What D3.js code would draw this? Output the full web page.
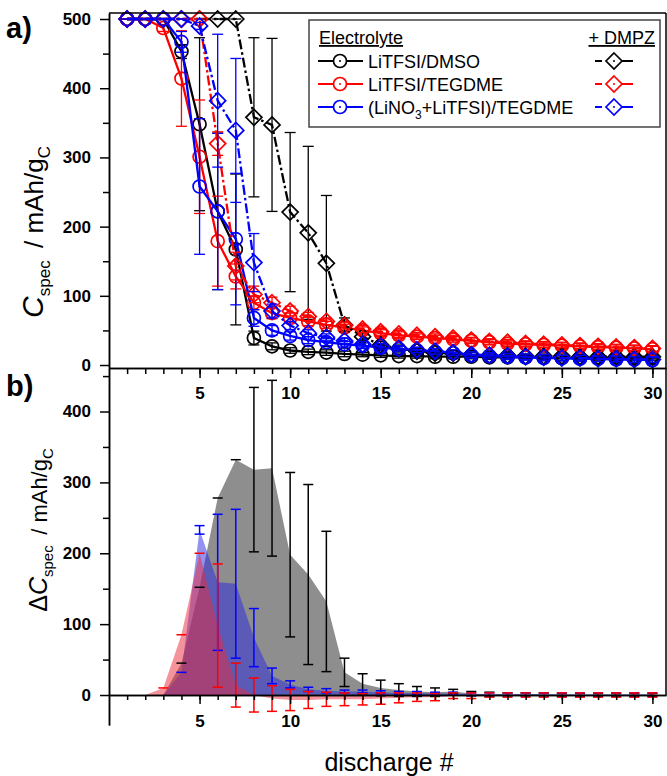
<!DOCTYPE html>
<html>
<head>
<meta charset="utf-8">
<script src="https://cdn.jsdelivr.net/npm/d3@7"></script>
<style>
  body { margin: 0; background: #fff; }
  svg { font-family: Arial, "Liberation Sans", sans-serif; }
  .tick text { font-weight: bold; font-size: 17px; fill: #000; }
  .domain, .tick line { stroke: #000; stroke-width: 1.5; }
</style>
</head>
<body>
<svg id="chart" width="667" height="776"></svg>
<script>
// discharge number
var discharge = [1,2,3,4,5,6,7,8,9,10,11,12,13,14,15,16,17,18,19,20,21,22,23,24,25,26,27,28,29,30];

// a) specific capacity, without mediator (circles)
var capDMSO   = [500,500,500,453,348,222,167,39,27,21,19,18,16,15,14,13,13,12,12,12,11,11,11,11,10,10,10,10,10,10];
var errDMSO   = [0,0,0,10,125,113,109,10,5,4,4,4,4,3,3,3,3,3,3,3,3,3,3,3,3,3,3,3,3,3];
var capTEG    = [500,500,487,414,301,179,128,90,75,68,63,58,54,50,46,43,41,39,37,35,33,31,30,29,28,27,26,25,24,23];
var errTEG    = [0,0,5,69,82,65,18,10,8,7,6,5,5,5,5,5,4,4,4,4,4,4,4,4,4,4,4,4,4,4];
var capLiNO3  = [500,500,500,467,258,222,182,68,50,42,36,33,30,28,25,23,21,19,17,14,13,12,11,10,10,9,9,8,8,7];
var errLiNO3  = [0,0,0,15,98,113,95,12,7,6,5,5,4,4,4,4,4,4,4,4,4,4,4,4,4,4,4,4,4,4];
// a) with DMPZ (diamonds)
var capDMSOd  = [500,500,500,500,500,500,500,358,347,221,191,147,58,41,29,24,20,17,17,15,14,14,13,13,13,12,12,12,12,12];
var errDMSOd  = [0,0,0,0,0,0,0,115,125,115,125,98,10,6,5,5,4,4,4,4,4,4,3,3,3,3,3,3,3,3];
var capTEGd   = [500,500,500,500,500,320,143,102,90,78,70,63,57,52,48,45,43,41,39,36,34,33,31,30,29,28,27,26,25,24];
var errTEGd   = [0,0,0,0,0,17,20,12,8,7,6,5,5,5,5,5,4,4,4,4,4,4,4,4,4,4,4,4,4,4];
var capLiNO3d = [500,500,500,500,490,382,339,148,78,57,46,40,35,30,27,24,22,20,18,15,14,13,12,11,10,10,9,9,8,8];
var errLiNO3d = [0,0,0,0,5,96,104,42,10,6,5,5,4,4,4,4,4,4,4,4,4,4,4,4,4,4,4,4,4,4];

// b) capacity difference (null error = no bar drawn)
var dDMSO  = [0,0,0,45,152,278,332,318,320,198,170,132,32,16,10,7,5,4,5,2,1,1,1,1,0,0,0,0,0,0];
var eDMSO  = [null,null,null,0,0,0,0,116,124,116,127,99,20,14,11,9,7,6,3,3,3,2,2,2,2,2,2,2,2,2];
var dLiNO3 = [0,0,0,32,233,159,157,81,27,15,8,6,5,5,4,3,3,2,2,1,1,1,1,1,1,1,1,1,1,1];
var eLiNO3 = [null,null,null,0,6,96,105,41,11,5,3,3,2,2,2,2,2,2,2,2,2,2,2,2,2,2,2,2,2,2];
var dTEG   = [0,0,10,85,200,98,14,0,-5,-7,-7,-6,-6,-6,-5,-4,-3,-3,-1,-1,0,0,0,0,0,0,0,0,0,0];
var eTEG   = [null,null,0,0,0,87,31,24,18,15,12,10,9,8,8,7,6,5,4,4,3,3,3,3,3,3,3,3,3,3];

var majorX = [5,10,15,20,25,30];
var minorX = discharge;
var majorYa = [0,100,200,300,400,500];
var minorYa = [50,150,250,350,450];
var majorYb = [0,100,200,300,400];
var minorYb = [50,150,250,350,450];

var legendNames = ["LiTFSI/DMSO","LiTFSI/TEGDME","(LiNO3+LiTFSI)/TEGDME"];
var colors = ["#000000","#ff0000","#0000ff"];

var svg = d3.select("#chart");
var left = 109, right = 666;

var x = d3.scaleLinear().domain([0,30.75]).range([left,right]);
var yA = d3.scaleLinear().domain([-4.3,508.7]).range([368,13]);
var yB = d3.scaleLinear().domain([-42.3,461.4]).range([725,368]);

// ---------- panel b areas ----------
var gBot = svg.append("g");
function areaOf(vals){
    return d3.area()
        .x(function(d,i){return x(discharge[i]);})
        .y0(yB(0))
        .y1(function(d){return yB(d);})(vals);
}
gBot.append("path").attr("d",areaOf(dDMSO)).attr("fill","#8e8e8e");
gBot.append("path").attr("d",areaOf(dLiNO3)).attr("fill","#2828e0").attr("fill-opacity",0.5);
gBot.append("path").attr("d",areaOf(dTEG)).attr("fill","#eb283c").attr("fill-opacity",0.5);

function errBars(g, yS, vals, errs, color, capW, sw){
    discharge.forEach(function(d,i){
        var cx = x(d), v = vals[i], e = errs[i];
        if(e === null) return;
        if(e > 0){
            g.append("line").attr("x1",cx).attr("x2",cx)
                .attr("y1",yS(v+e)).attr("y2",yS(v-e))
                .attr("stroke",color).attr("stroke-width",sw);
            [v+e, v-e].forEach(function(t){
                g.append("line").attr("x1",cx-capW).attr("x2",cx+capW)
                    .attr("y1",yS(t)).attr("y2",yS(t))
                    .attr("stroke",color).attr("stroke-width",sw);
            });
        } else {
            g.append("line").attr("x1",cx-capW).attr("x2",cx+capW)
                .attr("y1",yS(v)).attr("y2",yS(v))
                .attr("stroke",color).attr("stroke-width",sw);
        }
    });
}
errBars(gBot, yB, dDMSO, eDMSO, "#000", 5, 1.5);
errBars(gBot, yB, dLiNO3, eLiNO3, "#0000ff", 5, 1.5);
errBars(gBot, yB, dTEG, eTEG, "#ff0000", 5, 1.5);

// ---------- panel a ----------
var gTop = svg.append("g");
var series = [
    {v:capDMSO,  e:errDMSO,  c:colors[0], shape:"circle"},
    {v:capTEG,   e:errTEG,   c:colors[1], shape:"circle"},
    {v:capLiNO3, e:errLiNO3, c:colors[2], shape:"circle"},
    {v:capDMSOd, e:errDMSOd, c:colors[0], shape:"diamond"},
    {v:capTEGd,  e:errTEGd,  c:colors[1], shape:"diamond"},
    {v:capLiNO3d,e:errLiNO3d,c:colors[2], shape:"diamond"}
];
var line = d3.line().x(function(d,i){return x(discharge[i]);}).y(function(d){return yA(d);});

function marker(g, cx, cy, shape, color){
    if(shape==="circle"){
        g.append("circle").attr("cx",cx).attr("cy",cy).attr("r",6.5)
            .attr("fill","none").attr("stroke",color).attr("stroke-width",1.7);
    } else {
        var s = 8;
        g.append("path").attr("d","M"+cx+","+(cy-s)+"L"+(cx+s)+","+cy+"L"+cx+","+(cy+s)+"L"+(cx-s)+","+cy+"Z")
            .attr("fill","none").attr("stroke",color).attr("stroke-width",1.7);
    }
    g.append("circle").attr("cx",cx).attr("cy",cy).attr("r",1).attr("fill",color);
}

series.forEach(function(s){
    var g = gTop.append("g");
    g.append("path").attr("d",line(s.v)).attr("fill","none")
        .attr("stroke",s.c).attr("stroke-width",2.3)
        .attr("stroke-dasharray",s.shape==="diamond"?"10,3,2.5,3":null);
    errBars(g, yA, s.v, s.e, s.c, 5.5, 1.3);
    s.v.forEach(function(v,i){ marker(g, x(discharge[i]), yA(v), s.shape, s.c); });
});

// ---------- axes ----------
svg.append("g").attr("transform","translate("+left+",0)")
    .call(d3.axisLeft(yA).tickValues(majorYa).tickSize(9).tickSizeOuter(0).tickPadding(9));
svg.append("g").attr("transform","translate("+left+",0)")
    .call(d3.axisLeft(yA).tickValues(minorYa).tickSize(6).tickSizeOuter(0).tickFormat(""));
svg.append("g").attr("transform","translate("+left+",0)")
    .call(d3.axisLeft(yB).tickValues(majorYb).tickSize(9).tickSizeOuter(0).tickPadding(9));
svg.append("g").attr("transform","translate("+left+",0)")
    .call(d3.axisLeft(yB).tickValues(minorYb).tickSize(6).tickSizeOuter(0).tickFormat(""));

// shared axis between panels
svg.append("g").attr("transform","translate(0,368)")
    .call(d3.axisBottom(x).tickValues(majorX).tickSize(10).tickSizeOuter(0).tickPadding(9));
svg.append("g").attr("transform","translate(0,368)")
    .call(d3.axisBottom(x).tickValues(minorX).tickSize(6).tickSizeOuter(0).tickFormat(""));
// zero axis of panel b
svg.append("g").attr("transform","translate(0,"+yB(0)+")")
    .call(d3.axisBottom(x).tickValues(majorX).tickSize(9).tickSizeOuter(0).tickPadding(11));
svg.append("g").attr("transform","translate(0,"+yB(0)+")")
    .call(d3.axisBottom(x).tickValues(minorX).tickSize(5).tickSizeOuter(0).tickFormat(""));

// frame
svg.append("line").attr("x1",left).attr("x2",right).attr("y1",13).attr("y2",13).attr("stroke","#000").attr("stroke-width",1.5);
svg.append("line").attr("x1",right).attr("x2",right).attr("y1",13).attr("y2",yB(0)).attr("stroke","#000").attr("stroke-width",1.5);

// panel labels
svg.append("text").attr("x",6).attr("y",38).attr("font-size",29).attr("font-weight","bold").text("a)");
svg.append("text").attr("x",6).attr("y",396).attr("font-size",29).attr("font-weight","bold").text("b)");

// axis titles
var tA = svg.append("text").attr("transform","translate(43,232) rotate(-90)")
    .attr("text-anchor","middle").attr("font-size",26);
tA.append("tspan").attr("font-style","italic").attr("font-size",30).text("C");
tA.append("tspan").attr("font-size",17).attr("dy",7).text("spec");
tA.append("tspan").attr("dy",-7).text("\u2009 / mAh/g");
tA.append("tspan").attr("font-size",17).attr("dy",7).text("C");

var tB = svg.append("text").attr("transform","translate(47,530) rotate(-90)")
    .attr("text-anchor","middle").attr("font-size",22);
tB.append("tspan").attr("font-size",25).text("\u0394");
tB.append("tspan").attr("font-style","italic").attr("font-size",25).text("C");
tB.append("tspan").attr("font-size",15).attr("dy",6).text("spec");
tB.append("tspan").attr("dy",-6).text("\u2009 / mAh/g");
tB.append("tspan").attr("font-size",15).attr("dy",6).text("C");

svg.append("text").attr("x",389).attr("y",771).attr("text-anchor","middle")
    .attr("font-size",25).text("discharge #");

// ---------- legend ----------
var lg = svg.append("g");
lg.append("rect").attr("x",309).attr("y",20).attr("width",351).attr("height",107)
    .attr("fill","#fff").attr("stroke","#444").attr("stroke-width",1.5);
lg.append("text").attr("x",319).attr("y",44).attr("font-size",18)
    .attr("text-decoration","underline").text("Electrolyte");
lg.append("text").attr("x",655).attr("y",44).attr("font-size",18).attr("text-anchor","end")
    .attr("text-decoration","underline").text("+ DMPZ");
var rowY = [61,84,107];
legendNames.forEach(function(name,i){
    var yy = rowY[i], c = colors[i];
    lg.append("line").attr("x1",318).attr("x2",363).attr("y1",yy).attr("y2",yy)
        .attr("stroke",c).attr("stroke-width",2.2);
    lg.append("circle").attr("cx",340).attr("cy",yy).attr("r",6.5).attr("fill","#fff")
        .attr("stroke",c).attr("stroke-width",1.7);
    lg.append("circle").attr("cx",340).attr("cy",yy).attr("r",1).attr("fill",c);
    var t = lg.append("text").attr("x",368).attr("y",yy+6.5).attr("font-size",18);
    if(i===2){
        t.append("tspan").text("(LiNO");
        t.append("tspan").attr("font-size",12).attr("dy",5).text("3");
        t.append("tspan").attr("dy",-5).text("+LiTFSI)/TEGDME");
    } else {
        t.text(name);
    }
    lg.append("line").attr("x1",595).attr("x2",633).attr("y1",yy).attr("y2",yy)
        .attr("stroke",c).attr("stroke-width",2.2).attr("stroke-dasharray","7,10,40");
    var s = 8, cx = 614;
    lg.append("path").attr("d","M"+cx+","+(yy-s)+"L"+(cx+s)+","+yy+"L"+cx+","+(yy+s)+"L"+(cx-s)+","+yy+"Z")
        .attr("fill","#fff").attr("stroke",c).attr("stroke-width",1.7);
    lg.append("circle").attr("cx",cx).attr("cy",yy).attr("r",1).attr("fill",c);
});
</script>
</body>
</html>
